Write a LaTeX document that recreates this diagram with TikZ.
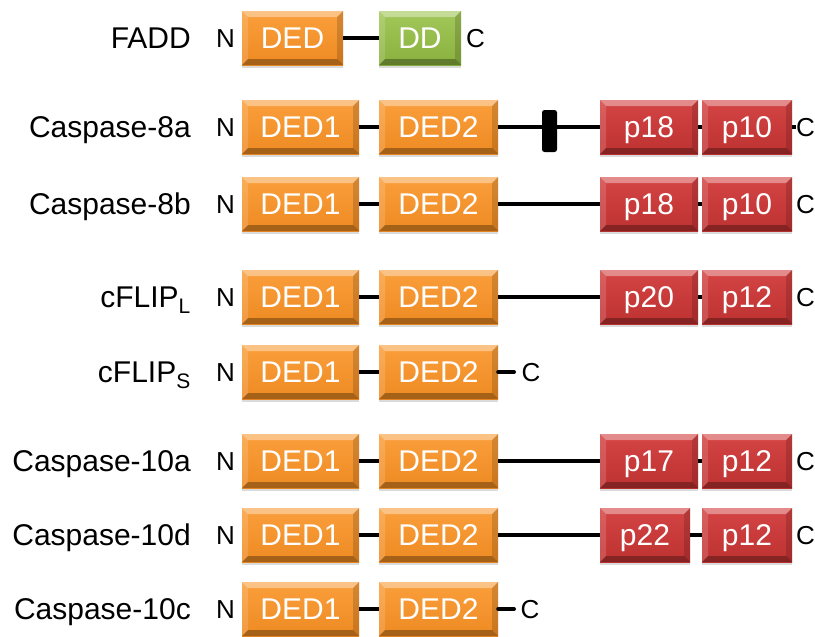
\documentclass[tikz,border=0pt]{standalone}
\usepackage{fontspec}
\setmainfont{Liberation Sans}
\usetikzlibrary{shadows}
\newcommand\bevelbands{%
  \fill[white,opacity=.38] (path picture bounding box.north west) -- (path picture bounding box.north east)
    -- ([shift={(-6pt,-6pt)}]path picture bounding box.north east) -- ([shift={(6pt,-6pt)}]path picture bounding box.north west) -- cycle;
  \fill[white,opacity=.15] (path picture bounding box.north west) -- ([shift={(6pt,-6pt)}]path picture bounding box.north west)
    -- ([shift={(6pt,6pt)}]path picture bounding box.south west) -- (path picture bounding box.south west) -- cycle;
  \fill[black,opacity=.15] (path picture bounding box.north east) -- ([shift={(-6pt,-6pt)}]path picture bounding box.north east)
    -- ([shift={(-6pt,6pt)}]path picture bounding box.south east) -- (path picture bounding box.south east) -- cycle;
  \fill[black,opacity=.3] (path picture bounding box.south west) -- (path picture bounding box.south east)
    -- ([shift={(-6pt,6pt)}]path picture bounding box.south east) -- ([shift={(6pt,6pt)}]path picture bounding box.south west) -- cycle;
}
\definecolor{ortop}{HTML}{FA9F3C}
\definecolor{orbot}{HTML}{EE8A22}
\definecolor{rdtop}{HTML}{D44444}
\definecolor{rdbot}{HTML}{BE3232}
\definecolor{grtop}{HTML}{A2C85A}
\definecolor{grbot}{HTML}{8AB03E}
\tikzset{
  lbl/.style={anchor=east,inner sep=0pt,font=\fontsize{30}{34}\selectfont,text height=21.5pt,text depth=0pt},
  term/.style={inner sep=0pt,font=\fontsize{26}{30}\selectfont,text height=18.6pt,text depth=0pt},
  dom/.style={inner sep=0pt,minimum height=54pt,text=white,font=\fontsize{30}{34}\selectfont,
    text height=21.5pt,text depth=0pt,
    drop shadow={shadow xshift=0pt,shadow yshift=-3pt,opacity=.28},
    path picture={\bevelbands}},
  orbox/.style={dom,top color=ortop,bottom color=orbot},
  rdbox/.style={dom,top color=rdtop,bottom color=rdbot},
  grbox/.style={dom,top color=grtop,bottom color=grbot},
  link/.style={line width=4pt,black},
  stub/.style={line width=4pt,black,line cap=round},
  marker/.style={fill=black,rounded corners=2.5pt,minimum width=15pt,minimum height=42pt,inner sep=0pt}
}
\begin{document}
\begin{tikzpicture}[x=1pt,y=-1pt]
\useasboundingbox[fill=white] (0,0) rectangle (815,637);
% ---------- FADD
\node[lbl] (l1) at (191,38) {FADD};
\node[term,anchor=east] (n1) at (235,38) {N};
\node[orbox,minimum width=101pt] (a1) at (292.5,38) {DED};
\node[grbox,minimum width=82pt] (b1) at (420,38) {DD};
\node[term,anchor=west] (c1) at (466,38) {C};
\draw[link] (a1.east) -- (b1.west);
% ---------- Caspase-8a
\node[lbl] (l2) at (191,127) {Caspase-8a};
\node[term,anchor=east] (n2) at (235,127) {N};
\node[orbox,minimum width=117pt] (a2) at (300.5,127) {DED1};
\node[orbox,minimum width=119pt] (b2) at (438.5,127) {DED2};
\node[rdbox,minimum width=98pt] (p2) at (649,127) {p18};
\node[rdbox,minimum width=90pt] (q2) at (747,127) {p10};
\node[term,anchor=west] (c2) at (796,127) {C};
\draw[link] (a2.east) -- (b2.west);
\draw[link] (b2.east) -- (p2.west);
\draw[link] (p2.east) -- (q2.west);
\draw[link] (q2.east) -- (c2.west);
\node[marker] (m2) at (549.5,131) {};
% ---------- Caspase-8b
\node[lbl] (l3) at (191,204) {Caspase-8b};
\node[term,anchor=east] (n3) at (235,204) {N};
\node[orbox,minimum width=117pt] (a3) at (300.5,204) {DED1};
\node[orbox,minimum width=119pt] (b3) at (438.5,204) {DED2};
\node[rdbox,minimum width=98pt] (p3) at (649,204) {p18};
\node[rdbox,minimum width=90pt] (q3) at (747,204) {p10};
\node[term,anchor=west] (c3) at (796,204) {C};
\draw[link] (a3.east) -- (b3.west);
\draw[link] (b3.east) -- (p3.west);
\draw[link] (p3.east) -- (q3.west);
% ---------- cFLIP L
\node[lbl] (l4) at (191,297) {cFLIP\textsubscript{L}};
\node[term,anchor=east] (n4) at (235,297) {N};
\node[orbox,minimum width=117pt] (a4) at (300.5,297) {DED1};
\node[orbox,minimum width=119pt] (b4) at (438.5,297) {DED2};
\node[rdbox,minimum width=98pt] (p4) at (649,297) {p20};
\node[rdbox,minimum width=90pt] (q4) at (747,297) {p12};
\node[term,anchor=west] (c4) at (796,297) {C};
\draw[link] (a4.east) -- (b4.west);
\draw[link] (b4.east) -- (p4.west);
\draw[link] (p4.east) -- (q4.west);
% ---------- cFLIP S
\node[lbl] (l5) at (191,372) {cFLIP\textsubscript{S}};
\node[term,anchor=east] (n5) at (235,372) {N};
\node[orbox,minimum width=117pt] (a5) at (300.5,372) {DED1};
\node[orbox,minimum width=119pt] (b5) at (438.5,372) {DED2};
\coordinate (e5) at (514,372);
\node[term,anchor=west] (c5) at (521.5,372) {C};
\draw[link] (a5.east) -- (b5.west);
\draw[stub] (b5.east) -- (e5);
% ---------- Caspase-10a
\node[lbl] (l6) at (191,461) {Caspase-10a};
\node[term,anchor=east] (n6) at (235,461) {N};
\node[orbox,minimum width=117pt] (a6) at (300.5,461) {DED1};
\node[orbox,minimum width=119pt] (b6) at (438.5,461) {DED2};
\node[rdbox,minimum width=98pt] (p6) at (649,461) {p17};
\node[rdbox,minimum width=90pt] (q6) at (747,461) {p12};
\node[term,anchor=west] (c6) at (796,461) {C};
\draw[link] (a6.east) -- (b6.west);
\draw[link] (b6.east) -- (p6.west);
\draw[link] (p6.east) -- (q6.west);
% ---------- Caspase-10d
\node[lbl] (l7) at (191,535) {Caspase-10d};
\node[term,anchor=east] (n7) at (235,535) {N};
\node[orbox,minimum width=117pt] (a7) at (300.5,535) {DED1};
\node[orbox,minimum width=119pt] (b7) at (438.5,535) {DED2};
\node[rdbox,minimum width=90pt] (p7) at (645,535) {p22};
\node[rdbox,minimum width=90pt] (q7) at (747,535) {p12};
\node[term,anchor=west] (c7) at (796,535) {C};
\draw[link] (a7.east) -- (b7.west);
\draw[link] (b7.east) -- (p7.west);
\draw[link] (p7.east) -- (q7.west);
% ---------- Caspase-10c
\node[lbl] (l8) at (191,609) {Caspase-10c};
\node[term,anchor=east] (n8) at (235,609) {N};
\node[orbox,minimum width=117pt] (a8) at (300.5,609) {DED1};
\node[orbox,minimum width=119pt] (b8) at (438.5,609) {DED2};
\coordinate (e8) at (514,609);
\node[term,anchor=west] (c8) at (520.5,609) {C};
\draw[link] (a8.east) -- (b8.west);
\draw[stub] (b8.east) -- (e8);
\end{tikzpicture}
\end{document}
